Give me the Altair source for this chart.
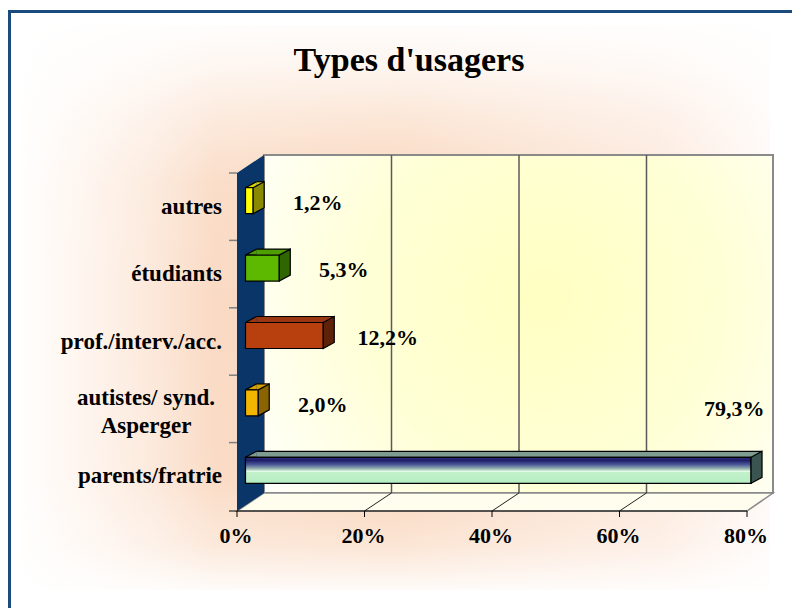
import altair as alt
import pandas as pd

# ---- data ----
CATEGORIES = ["autres", "étudiants", "prof./interv./acc.", "autistes/ synd.\nAsperger", "parents/fratrie"]
VALUES = [1.2, 5.3, 12.2, 2.0, 79.3]
TICKS = [0, 20, 40, 60, 80]
GRID = [20, 40, 60]
TITLE = "Types d'usagers"

# ---- styles ----
FRONT = ["#FFFF00", "#5DB800", "#B8400E", "#F2B600", "#B8EEC4"]
TOP = ["#D8D800", "#4E9E00", "#9A3610", "#D6A000", "#7E9C90"]
SIDE = ["#8A8A00", "#2E6600", "#5E2208", "#8A6400", "#3A5550"]
FONT = "Liberation Serif"

df = pd.DataFrame({"cat": CATEGORIES, "value": VALUES})
df["zero"] = 0
tick_df = pd.DataFrame({"t": TICKS})
grid_df = pd.DataFrame({"t": GRID})
one = pd.DataFrame({"d": [0]})

xs = alt.Scale(domain=[0, 80], range=[229, 739])
ys = alt.Scale(domain=CATEGORIES, range=[165, 502], paddingInner=0, paddingOuter=0)
Y = alt.Y("cat:N", scale=ys, axis=None)

peach_h = {"gradient": "linear", "x1": 0, "y1": 0, "x2": 1, "y2": 0,
           "stops": [{"offset": 0, "color": "#FFFEFD"}, {"offset": 0.1, "color": "#FEF3EB"},
                     {"offset": 0.18, "color": "#FCE8DA"}, {"offset": 0.26, "color": "#FADAC3"},
                     {"offset": 0.5, "color": "#F9D4B8"}, {"offset": 0.85, "color": "#FCE6D8"},
                     {"offset": 1, "color": "#FFF9F6"}]}
fade_v = {"gradient": "linear", "x1": 0, "y1": 0, "x2": 0, "y2": 1,
          "stops": [{"offset": 0, "color": "rgba(255,255,255,0.95)"},
                    {"offset": 0.08, "color": "rgba(255,255,255,0.75)"},
                    {"offset": 0.16, "color": "rgba(255,255,255,0.45)"},
                    {"offset": 0.28, "color": "rgba(255,255,255,0.1)"},
                    {"offset": 0.5, "color": "rgba(255,255,255,0)"},
                    {"offset": 0.8, "color": "rgba(255,255,255,0.05)"},
                    {"offset": 0.92, "color": "rgba(255,255,255,0.4)"},
                    {"offset": 1, "color": "rgba(255,255,255,0.9)"}]}
yellow = {"gradient": "radial", "x1": 0.55, "y1": 0.45, "r1": 0, "x2": 0.55, "y2": 0.45, "r2": 0.7,
          "stops": [{"offset": 0, "color": "#FFFFC2"}, {"offset": 0.5, "color": "#FFFFD6"},
                    {"offset": 1, "color": "#FFFFFF"}]}
parents_grad = {"gradient": "linear", "x1": 0, "y1": 0, "x2": 0, "y2": 1,
                "stops": [{"offset": 0, "color": "#2A2A78"}, {"offset": 0.12, "color": "#1E1E6A"},
                          {"offset": 0.28, "color": "#4A5898"}, {"offset": 0.42, "color": "#8FA6AC"},
                          {"offset": 0.5, "color": "#B8DCC4"}, {"offset": 0.53, "color": "#F4FFF6"},
                          {"offset": 0.58, "color": "#C2F0CA"}, {"offset": 1, "color": "#B6EEC2"}]}

bg = alt.Chart(one).mark_rect(fill=peach_h).encode(
    x=alt.value(12), x2=alt.value(762), y=alt.value(17), y2=alt.value(582))
bg_fade = alt.Chart(one).mark_rect(fill=fade_v).encode(
    x=alt.value(12), x2=alt.value(762), y=alt.value(17), y2=alt.value(582))
frame_top = alt.Chart(one).mark_rule(color="#1B4A7C", strokeWidth=3).encode(
    x=alt.value(0), x2=alt.value(784), y=alt.value(3.5))
frame_left = alt.Chart(one).mark_rule(color="#1B4A7C", strokeWidth=3).encode(
    x=alt.value(1.5), y=alt.value(2), y2=alt.value(600))

back = alt.Chart(one).mark_rect(fill=yellow, stroke="#8A8A8A", strokeWidth=2).encode(
    x=alt.value(256), x2=alt.value(765), y=alt.value(147), y2=alt.value(485))
floor = alt.Chart(one).mark_point(
    shape="M-0.8933,0.03L-0.8033,-0.03L0.8933,-0.03L0.8067,0.03Z", filled=True, size=360000,
    fill="#FFFDEE", stroke="#8A8A8A", strokeWidth=1.5, opacity=1).encode(
    x=alt.value(497), y=alt.value(494))
wall = alt.Chart(one).mark_point(
    shape="M-0.0675,-0.8L0.0675,-0.89L0.0675,0.8L-0.0675,0.89Z", filled=True, size=160000,
    fill="#0A3568", opacity=1).encode(x=alt.value(242.5), y=alt.value(325))

gridlines = alt.Chart(grid_df).mark_rule(color="#5A5A5A", strokeWidth=1.5, xOffset=27).encode(
    x=alt.X("t:Q", scale=xs, axis=None), y=alt.value(147), y2=alt.value(485))
diag = alt.Chart(grid_df).mark_rule(color="#222222", strokeWidth=1, x2Offset=27).encode(
    x=alt.X("t:Q", scale=xs, axis=None), x2="t:Q", y=alt.value(503), y2=alt.value(485))
axis_line = alt.Chart(one).mark_rule(color="black", strokeWidth=1).encode(
    x=alt.value(221), x2=alt.value(739), y=alt.value(503))
xticks = alt.Chart(tick_df).mark_rule(color="black", strokeWidth=1).encode(
    x=alt.X("t:Q", scale=xs, axis=None), y=alt.value(503), y2=alt.value(509))
yticks = alt.Chart(df).mark_rule(color="#808080", strokeWidth=1.5).encode(
    y=alt.Y("cat:N", scale=ys, axis=None, bandPosition=0), x=alt.value(221), x2=alt.value(229))

def cscale(colors):
    return alt.Color("cat:N", scale=alt.Scale(domain=CATEGORIES, range=colors), legend=None)

X0 = alt.X("zero:Q", scale=xs, axis=None)
XV = alt.X("value:Q", scale=xs, axis=None)

# top face: strip + left cap + upper edge
top_strip = alt.Chart(df).mark_rule(strokeWidth=6, xOffset=19.5, x2Offset=19.5, yOffset=-22,
                                    y2Offset=-22).encode(
    x=X0, x2="value:Q", y=Y, color=cscale(TOP))
top_cap = alt.Chart(df).mark_point(
    shape="M0.275,0.15L-0.275,0.15L0.275,-0.15", size=1600, filled=True, opacity=1,
    stroke="black", strokeWidth=1.2, xOffset=14, yOffset=-22).encode(
    x=X0, y=Y, color=cscale(TOP))
top_edge = alt.Chart(df).mark_rule(color="black", strokeWidth=1.2, xOffset=19.5, x2Offset=19.5,
                                   yOffset=-25, y2Offset=-25).encode(x=X0, x2="value:Q", y=Y)
front_face = alt.Chart(df).mark_bar(height=26, xOffset=8.5, x2Offset=8.5, yOffset=-6, y2Offset=-6,
                                    stroke="black", strokeWidth=1.2).encode(
    y=Y, x=X0, x2="value:Q", color=cscale(FRONT))
parents_face = alt.Chart(df).transform_filter("datum.value > 50").mark_bar(
    height=26, xOffset=8.5, x2Offset=8.5, yOffset=-6, y2Offset=-6,
    fill=parents_grad, stroke="black", strokeWidth=1.2).encode(y=Y, x=X0, x2="value:Q")
side_face = alt.Chart(df).mark_point(
    shape="M-0.275,-0.5L0.275,-0.8L0.275,0.5L-0.275,0.8Z", size=1600, filled=True, opacity=1,
    stroke="black", strokeWidth=1.2, xOffset=14, yOffset=-9).encode(
    x=XV, y=Y, color=cscale(SIDE))

lbl_expr = "replace(format(datum.value, '.1f'), '.', ',') + '%'"
txt = dict(font=FONT, fontWeight="bold", fontSize=22, color="black")
val_small = alt.Chart(df).transform_filter("datum.value < 50").transform_calculate(
    lbl=lbl_expr).mark_text(align="center", baseline="middle", dx=73, dy=-4, **txt).encode(
    x=XV, y=Y, text="lbl:N")
val_big = alt.Chart(df).transform_filter("datum.value >= 50").transform_calculate(
    lbl=lbl_expr).mark_text(align="right", baseline="middle", dx=22, dy=-67, **txt).encode(
    x=XV, y=Y, text="lbl:N")

ctxt = dict(font=FONT, fontWeight="bold", fontSize=23, color="black")
cat_single = alt.Chart(df).transform_filter("indexof(datum.cat, '\\n') < 0").mark_text(
    align="right", baseline="middle", **ctxt).encode(
    x=alt.value(214), y=Y, text="cat:N")
cat_multi = alt.Chart(df).transform_filter("indexof(datum.cat, '\\n') >= 0").mark_text(
    align="center", baseline="middle", lineBreak="\n", lineHeight=28, dy=-10.5, **ctxt).encode(
    x=alt.value(138), y=Y, text="cat:N")

tick_lbl = alt.Chart(tick_df).transform_calculate(lbl="datum.t + '%'").mark_text(
    align="center", baseline="alphabetic", dx=-1, **txt).encode(
    x=alt.X("t:Q", scale=xs, axis=None), y=alt.value(535), text="lbl:N")

title = alt.Chart(one).mark_text(font=FONT, fontWeight="bold", fontSize=34,
                                 align="center", baseline="alphabetic", color="black").encode(
    x=alt.value(401), y=alt.value(63), text=alt.value(TITLE))

chart = alt.layer(
    bg, bg_fade, frame_top, frame_left, back, floor, wall, gridlines, diag, axis_line, xticks, yticks,
    top_strip, top_cap, top_edge, front_face, parents_face, side_face,
    val_small, val_big, cat_single, cat_multi, tick_lbl, title
).resolve_scale(color="independent").properties(
    width=784, height=600, padding=0, autosize=alt.AutoSizeParams(type="none"), background="white"
).configure_view(stroke="transparent")

chart.save("out.html", embed_options={"renderer": "svg", "actions": False})
